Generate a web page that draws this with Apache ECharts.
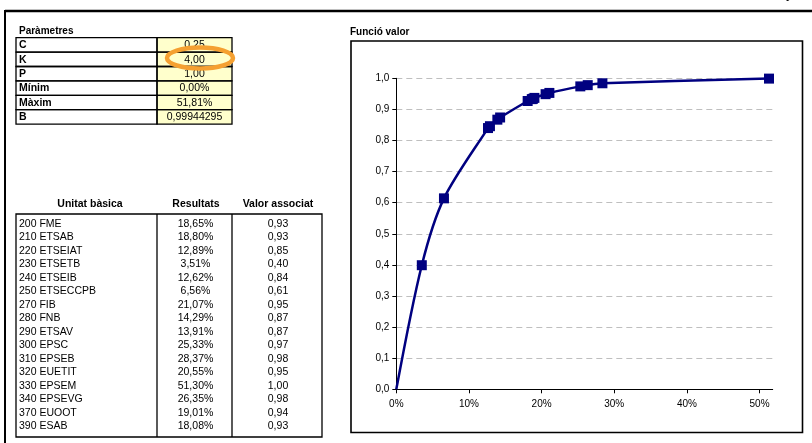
<!DOCTYPE html>
<html><head><meta charset="utf-8">
<script src="https://cdn.jsdelivr.net/npm/echarts@6/dist/echarts.min.js"></script>
<style>html,body{margin:0;padding:0;background:#fff}#c{width:812px;height:443px}</style>
</head><body><div id="c"></div>
<script>
// ---- data ----
const paramLabels = ['C','K','P','Mínim','Màxim','B'];
const paramValues = ['0,25','4,00','1,00','0,00%','51,81%','0,99944295'];
const units = ['200 FME','210 ETSAB','220 ETSEIAT','230 ETSETB','240 ETSEIB','250 ETSECCPB','270 FIB','280 FNB','290 ETSAV','300 EPSC','310 EPSEB','320 EUETIT','330 EPSEM','340 EPSEVG','370 EUOOT','390 ESAB'];
const results = [0.1865,0.1880,0.1289,0.0351,0.1262,0.0656,0.2107,0.1429,0.1391,0.2533,0.2837,0.2055,0.5130,0.2635,0.1901,0.1808];
// associated values (table shows them rounded to 2 decimals; 3rd decimal)
const values = [0.933,0.934,0.846,0.399,0.840,0.614,0.953,0.874,0.867,0.974,0.984,0.949,0.999,0.978,0.937,0.927];
const xMin = 0.0, xMax = 0.5181;
const xTicks = [0,0.1,0.2,0.3,0.4,0.5];

const FONT = 'Liberation Sans, Arial, sans-serif';
const fmtPct = v => (v*100).toFixed(2).replace('.',',') + '%';
const fmtVal = v => v.toFixed(2).replace('.',',');

const g = [];
// outer frame
g.push({type:'line',shape:{x1:5,y1:11,x2:812,y2:11},style:{stroke:'#000',lineWidth:2.5}});
g.push({type:'line',shape:{x1:5,y1:10,x2:5,y2:443},style:{stroke:'#000',lineWidth:2}});
g.push({type:'text',x:786,y:-10,style:{text:'y',font:'bold 11px '+FONT,fill:'#000'}});
// Parameters table
g.push({type:'text',x:19,y:31,style:{text:'Paràmetres',font:'bold 10px '+FONT,fill:'#000',textVerticalAlign:'middle'}});
const pTop = 37.7, pRow = 14.4, pL = 16, pM = 157, pR = 232;
g.push({type:'rect',shape:{x:pM,y:pTop,width:pR-pM,height:pRow*paramLabels.length},style:{fill:'#FFFFCC'}});
paramLabels.forEach((lab,i)=>{
  const y = pTop + i*pRow;
  g.push({type:'rect',shape:{x:pL,y:y,width:pM-pL,height:pRow},style:{fill:'none',stroke:'#000',lineWidth:1.3}});
  g.push({type:'rect',shape:{x:pM,y:y,width:pR-pM,height:pRow},style:{fill:'none',stroke:'#000',lineWidth:1.3}});
  g.push({type:'text',x:pL+3,y:y+pRow/2+0.5,style:{text:lab,font:'bold 10.5px '+FONT,fill:'#000',textVerticalAlign:'middle',textAlign:'left'}});
  g.push({type:'text',x:(pM+pR)/2,y:y+pRow/2+0.5,style:{text:paramValues[i],font:'10.5px '+FONT,fill:'#000',textVerticalAlign:'middle',textAlign:'center'}});
});
// highlight ellipse
g.push({type:'ellipse',shape:{cx:200,cy:58,rx:33,ry:10.5},style:{fill:'none',stroke:'#F5A031',lineWidth:4.5},z:100});
// Results table
const tTop = 214, tRow = 13.5, c0 = 16, c1 = 157, c2 = 232, c3 = 322, tBot = 437;
g.push({type:'text',x:90,y:204,style:{text:'Unitat bàsica',font:'bold 10.5px '+FONT,fill:'#000',textAlign:'center',textVerticalAlign:'middle'}});
g.push({type:'text',x:196,y:204,style:{text:'Resultats',font:'bold 10.5px '+FONT,fill:'#000',textAlign:'center',textVerticalAlign:'middle'}});
g.push({type:'text',x:278,y:204,style:{text:'Valor associat',font:'bold 10.5px '+FONT,fill:'#000',textAlign:'center',textVerticalAlign:'middle'}});
g.push({type:'rect',shape:{x:c0,y:tTop,width:c3-c0,height:tBot-tTop},style:{fill:'none',stroke:'#000',lineWidth:1.3}});
g.push({type:'line',shape:{x1:c1,y1:tTop,x2:c1,y2:tBot},style:{stroke:'#000',lineWidth:1.3}});
g.push({type:'line',shape:{x1:c2,y1:tTop,x2:c2,y2:tBot},style:{stroke:'#000',lineWidth:1.3}});
units.forEach((u,i)=>{
  const y = tTop + 10 + i*tRow;
  g.push({type:'text',x:c0+3,y:y,style:{text:u,font:'10.5px '+FONT,fill:'#000',textAlign:'left',textVerticalAlign:'middle'}});
  g.push({type:'text',x:(c1+c2)/2+1,y:y,style:{text:fmtPct(results[i]),font:'10.5px '+FONT,fill:'#000',textAlign:'center',textVerticalAlign:'middle'}});
  g.push({type:'text',x:(c2+c3)/2+1,y:y,style:{text:fmtVal(values[i]),font:'10.5px '+FONT,fill:'#000',textAlign:'center',textVerticalAlign:'middle'}});
});
// chart box + title
g.push({type:'text',x:350,y:32,style:{text:'Funció valor',font:'bold 10px '+FONT,fill:'#000',textVerticalAlign:'middle'}});
g.push({type:'rect',shape:{x:351,y:41,width:451.5,height:391.5},style:{fill:'none',stroke:'#000',lineWidth:1.6}});

const pts = results.map((r,i)=>[r,values[i]]);
const sorted = [[xMin,0]].concat(pts.slice().sort((a,b)=>a[0]-b[0]));

const chart = echarts.init(document.getElementById('c'),null,{renderer:'canvas'});
chart.setOption({
  animation:false,
  graphic:g,
  grid:{left:396.3,top:78.3,right:39.3,bottom:53.7},
  xAxis:{type:'value',min:xMin,max:xMax,interval:0.1,
    axisLine:{lineStyle:{color:'#000',width:1}},
    axisTick:{show:true,length:4,lineStyle:{color:'#000'}},
    splitLine:{show:false},
    axisLabel:{color:'#000',fontFamily:FONT,fontSize:10,margin:10,showMaxLabel:false,
      formatter:v=> xTicks.some(t=>Math.abs(t-v)<1e-9) ? Math.round(v*100)+'%' : ''}},
  yAxis:{type:'value',min:0,max:1,interval:0.1,
    axisLine:{show:true,lineStyle:{color:'#000',width:1}},
    axisTick:{show:true,length:4,lineStyle:{color:'#000'}},
    splitLine:{show:true,lineStyle:{color:'#BFBFBF',type:[6,4],width:1}},
    axisLabel:{color:'#000',fontFamily:FONT,fontSize:10,margin:7,formatter:v=>v.toFixed(1).replace('.',',')}},
  series:[
    {type:'line',data:sorted,smooth:0.3,showSymbol:false,symbol:'none',
      lineStyle:{color:'#000080',width:2.5},clip:false,z:2},
    {type:'scatter',data:pts,symbol:'rect',symbolSize:10,itemStyle:{color:'#000080',opacity:1},clip:false,z:3}
  ]
});
</script></body></html>
